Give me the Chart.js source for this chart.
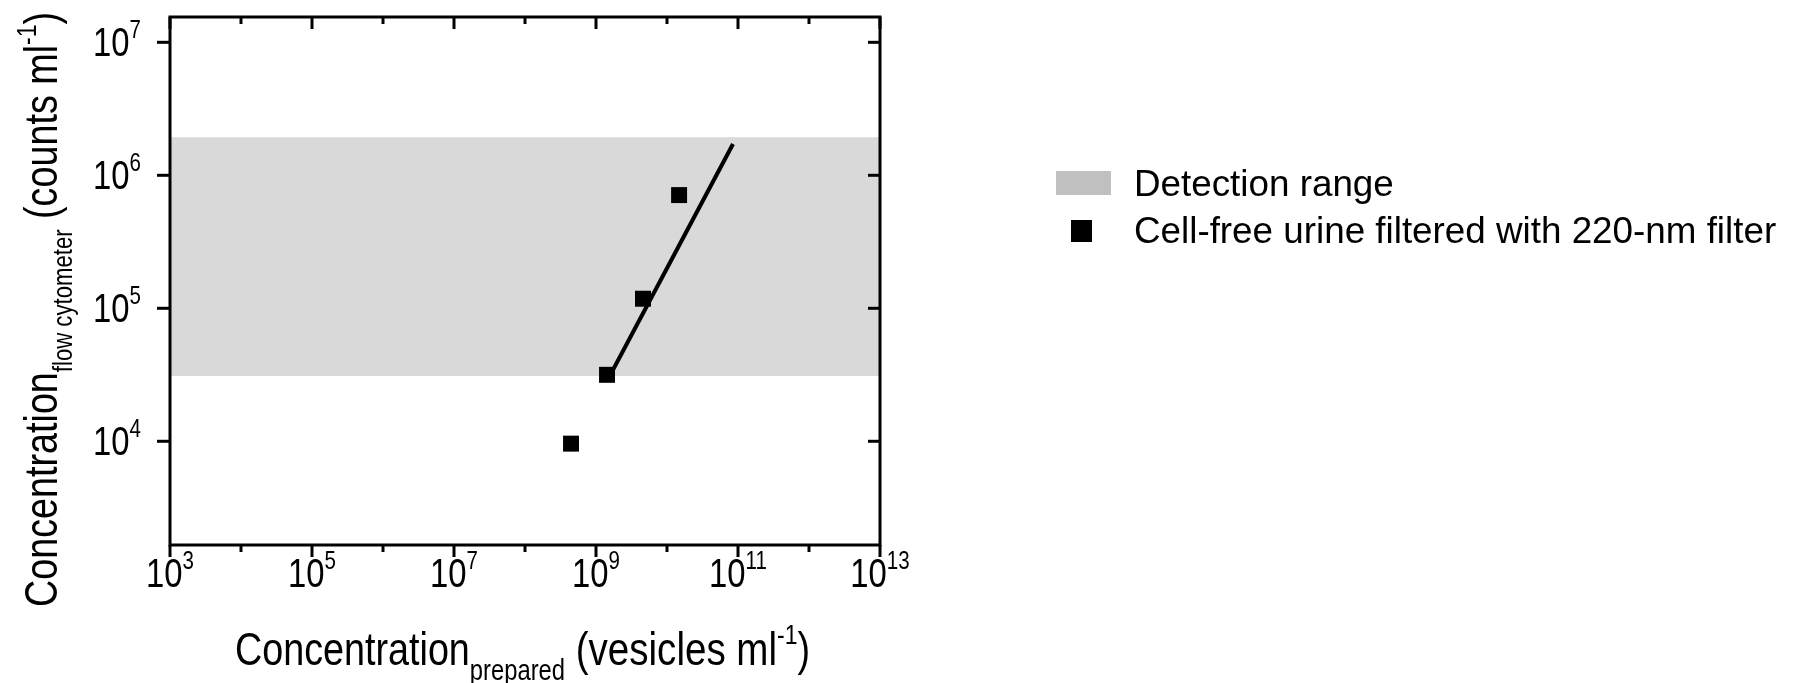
<!DOCTYPE html>
<html>
<head>
<meta charset="utf-8">
<script src="https://cdn.jsdelivr.net/npm/chart.js@4/dist/chart.umd.min.js"></script>
<style>
  body { margin: 0; background: #fff; }
</style>
</head>
<body>
<canvas id="chart" width="1797" height="683"></canvas>
<script>
// axis decades (exponents of 10)
var xTickExp = [3, 4, 5, 6, 7, 8, 9, 10, 11, 12, 13];
var xLabelExp = [3, 5, 7, 9, 11, 13];
var yTickExp = [4, 5, 6, 7];
var xMin = 1e3, xMax = 1e13;
var yMin = 1.66e3, yMax = 1.55e7;

// measured samples
var sampleX = [4.45e8, 1.43e9, 4.59e9, 1.48e10];
var sampleY = [9.6e3, 3.16e4, 1.18e5, 7.1e5];

// fitted line end points
var fitX = [1.68e9, 8.5e10];
var fitY = [3.33e4, 1.72e6];

// detection range of the flow cytometer
var bandLow = 3.1e4;
var bandHigh = 1.93e6;

var legendLabels = ['Detection range', 'Cell-free urine filtered with 220-nm filter'];

var FAMILY = "'Liberation Sans', Arial, sans-serif";
var NARROW = 0.82; // Arial Narrow is roughly Arial squeezed to 82%

function toPoints(xs, ys) {
    var out = [];
    for (var i = 0; i < xs.length; i++) out.push({x: xs[i], y: ys[i]});
    return out;
}

function tline(ctx, x1, y1, x2, y2) {
    ctx.beginPath();
    ctx.moveTo(x1, y1);
    ctx.lineTo(x2, y2);
    ctx.stroke();
}

// pieces: [{t: text, size: px, dy: baseline shift}] drawn in a row, narrow
function runWidth(ctx, pieces) {
    var w = 0;
    pieces.forEach(function(p) {
        ctx.font = p.size + 'px ' + FAMILY;
        w += ctx.measureText(p.t).width * NARROW;
    });
    return w;
}

function drawRun(ctx, pieces, x, y) {
    ctx.save();
    ctx.translate(x, y);
    ctx.scale(NARROW, 1);
    var cx = 0;
    pieces.forEach(function(p) {
        ctx.font = p.size + 'px ' + FAMILY;
        ctx.fillText(p.t, cx, p.dy || 0);
        cx += ctx.measureText(p.t).width;
    });
    ctx.restore();
}

var TICK = 40;
function powPieces(e) {
    return [{t: '10', size: TICK}, {t: String(e), size: 25, dy: -18}];
}

var framePlugin = {
    id: 'frame',
    afterDatasetsDraw: function(chart) {
        var ctx = chart.ctx, a = chart.chartArea;
        var sx = chart.scales.x, sy = chart.scales.y;
        ctx.save();
        ctx.strokeStyle = '#000';
        ctx.fillStyle = '#000';
        ctx.lineWidth = 3;
        ctx.lineCap = 'square';
        ctx.strokeRect(a.left, a.top, a.right - a.left, a.bottom - a.top);
        ctx.lineCap = 'butt';

        ctx.textBaseline = 'alphabetic';
        ctx.textAlign = 'left';

        // x axis: ticks out at bottom, in at top
        xTickExp.forEach(function(e) {
            var px = sx.getPixelForValue(Math.pow(10, e));
            var major = xLabelExp.indexOf(e) >= 0;
            var len = major ? 12 : 7;
            tline(ctx, px, a.bottom, px, a.bottom + len);
            tline(ctx, px, a.top, px, a.top + len);
            if (major) {
                var pc = powPieces(e);
                var w = runWidth(ctx, pc);
                drawRun(ctx, pc, px - w / 2, a.bottom + 42);
            }
        });

        // y axis: ticks out at left, in at right
        yTickExp.forEach(function(e) {
            var py = sy.getPixelForValue(Math.pow(10, e));
            tline(ctx, a.left - 13, py, a.left, py);
            tline(ctx, a.right - 12, py, a.right, py);
            var pc = powPieces(e);
            var w = runWidth(ctx, pc);
            drawRun(ctx, pc, a.left - 29 - w, py + 14);
        });

        // axis titles
        var xt = [
            {t: 'Concentration', size: 46},
            {t: 'prepared', size: 29, dy: 15},
            {t: ' (vesicles ml', size: 47},
            {t: '-1', size: 28, dy: -21},
            {t: ')', size: 46}
        ];
        drawRun(ctx, xt, 235, 665);

        var yt = [
            {t: 'Concentration', size: 46},
            {t: 'flow cytometer', size: 27, dy: 15},
            {t: ' (counts ml', size: 46},
            {t: '-1', size: 28, dy: -21},
            {t: ')', size: 46}
        ];
        ctx.save();
        ctx.translate(57, 607);
        ctx.rotate(-Math.PI / 2);
        drawRun(ctx, yt, 0, 0);
        ctx.restore();

        // legend
        ctx.fillStyle = '#c0c0c0';
        ctx.fillRect(1056, 171, 55, 24);
        ctx.fillStyle = '#000';
        ctx.fillRect(1071, 220, 21, 22);
        ctx.font = '36.8px ' + FAMILY;
        ctx.textBaseline = 'middle';
        ctx.fillText(legendLabels[0], 1134, 186);
        ctx.fillText(legendLabels[1], 1134, 233);
        ctx.restore();
    }
};

var ctx = document.getElementById('chart').getContext('2d');
var chart = new Chart(ctx, {
    type: 'scatter',
    data: {
        datasets: [{
            type: 'line',
            label: legendLabels[0],
            data: toPoints([xMin, xMax], [bandHigh, bandHigh]),
            backgroundColor: '#d9d9d9',
            borderWidth: 0,
            pointRadius: 0,
            fill: {value: bandLow},
            order: 3
        }, {
            type: 'line',
            label: 'fit',
            data: toPoints(fitX, fitY),
            borderColor: '#000',
            borderWidth: 4,
            pointRadius: 0,
            fill: false,
            order: 2
        }, {
            label: legendLabels[1],
            data: toPoints(sampleX, sampleY),
            pointStyle: 'rect',
            pointRadius: 11.3,
            backgroundColor: '#000',
            borderWidth: 0,
            order: 1
        }]
    },
    options: {
        responsive: false,
        devicePixelRatio: 1,
        animation: false,
        layout: {padding: {left: 170, right: 917, top: 17, bottom: 138}},
        plugins: {legend: {display: false}, tooltip: {enabled: false}},
        scales: {
            x: {type: 'logarithmic', min: xMin, max: xMax, display: false},
            y: {type: 'logarithmic', min: yMin, max: yMax, display: false}
        }
    },
    plugins: [framePlugin]
});
</script>
</body>
</html>
